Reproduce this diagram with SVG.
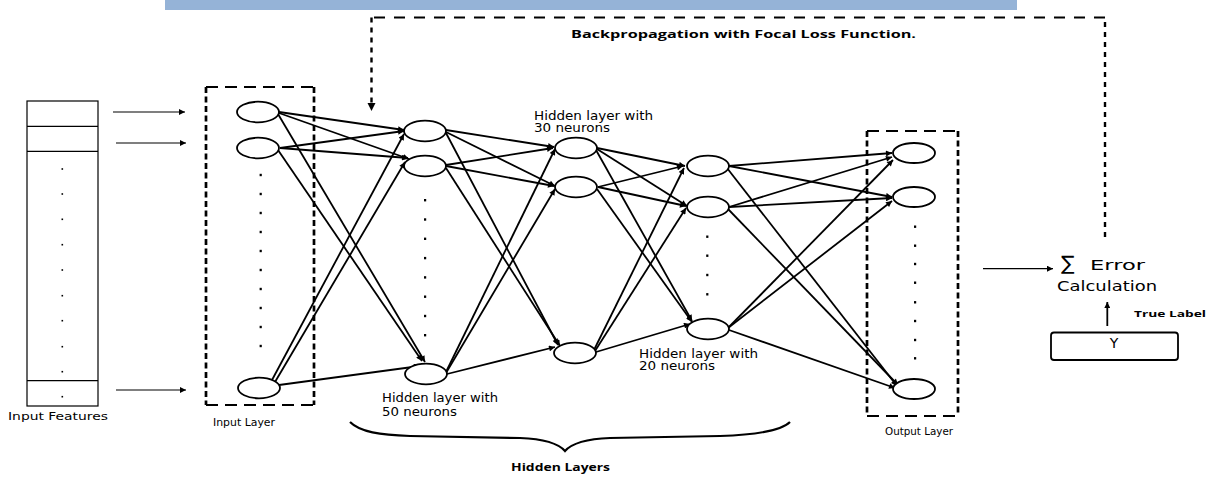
<svg xmlns="http://www.w3.org/2000/svg" width="1207" height="478" viewBox="0 0 1207 478">
<style>
.n{fill:#fff;stroke:#000;stroke-width:1.8}
.e{stroke:#000;stroke-width:1.8;fill:none;marker-end:url(#ah)}
.t{stroke:#000;stroke-width:1.2;fill:none;marker-end:url(#ah)}
.dv{stroke:#000;stroke-width:2.7;fill:none;stroke-dasharray:6 3.5}
.dh{stroke:#000;stroke-width:2;fill:none;stroke-dasharray:12 7}
.fv{stroke:#000;stroke-width:2.4;fill:none;stroke-dasharray:5 5}
.fh{stroke:#000;stroke-width:1.9;fill:none;stroke-dasharray:11 9}
.lbl{font-family:"DejaVu Sans",Verdana,sans-serif;font-size:12px;fill:#000}
.sm{font-family:"DejaVu Sans",Verdana,sans-serif;font-size:11px;fill:#000}
.b{font-family:"Open Sans","DejaVu Sans",sans-serif;font-weight:bold;fill:#000}
.dot{fill:#000}
</style>
<defs>
<marker id="ah" viewBox="0 0 10 10" refX="10" refY="5" markerWidth="8" markerHeight="6" markerUnits="userSpaceOnUse" orient="auto"><path d="M0,0 L10,5 L0,10 z" fill="#000"/></marker>
</defs>
<rect x="165" y="0" width="852" height="10" fill="#95B3D7"/>

<g id="connectors">
<path class="fv" d="M1105,237 V17.5"/>
<path class="fh" d="M1105,17.5 H371.5"/>
<path class="fv" d="M371.5,17.5 V104"/>
<path d="M367.5,103 L375.5,103 L371.5,111 z" fill="#000"/>
<path class="t" d="M113,112 H185"/>
<path class="t" d="M116,143 H186"/>
<path class="t" d="M116,390 H186"/>
<path class="e" d="M279,112 L404,130"/>
<path class="e" d="M279,113 L409,159"/>
<path class="e" d="M278,114 L425,362"/>
<path class="e" d="M280,148 L404,131"/>
<path class="e" d="M280,148 L408,158"/>
<path class="e" d="M278,150 L422,361"/>
<path class="e" d="M272,380 L404,134"/>
<path class="e" d="M275,382 L405,162"/>
<path class="e" d="M279,385 L420,366"/>
<path class="e" d="M446,130 L554,147"/>
<path class="e" d="M446,132 L555,186"/>
<path class="e" d="M446,133 L558,345"/>
<path class="e" d="M446,165 L553,148"/>
<path class="e" d="M446,166 L554,186"/>
<path class="e" d="M446,168 L560,346"/>
<path class="e" d="M446,372 L555,149"/>
<path class="e" d="M446,373 L555,189"/>
<path class="e" d="M447,374 L555,347"/>
<path class="e" d="M597,148 L685,166"/>
<path class="e" d="M597,149 L687,206"/>
<path class="e" d="M596,150 L692,321"/>
<path class="e" d="M598,187 L683,166"/>
<path class="e" d="M598,187 L686,206"/>
<path class="e" d="M597,189 L692,322"/>
<path class="e" d="M594,350 L684,168"/>
<path class="e" d="M595,351 L686,208"/>
<path class="e" d="M596,352 L690,324"/>
<path class="e" d="M729,166 L892,153"/>
<path class="e" d="M729,166 L892,197"/>
<path class="e" d="M727,168 L897,386"/>
<path class="e" d="M729,207 L892,157"/>
<path class="e" d="M729,207 L892,198"/>
<path class="e" d="M728,209 L898,385"/>
<path class="e" d="M728,328 L893,160"/>
<path class="e" d="M728,328 L892,201"/>
<path class="e" d="M729,330 L895,388"/>
<path class="t" d="M983,268.7 H1053"/>
<path class="t" style="stroke-width:1.8" d="M1107.3,326 V302"/>
<path d="M350,422 C360,432 380,435 410,436 L520,438 C545,439 558,443 565,451 C572,443 585,439 610,438 L720,436 C750,435 780,432 790,422" fill="none" stroke="#000" stroke-width="2.2"/>
</g>

<g id="input-features">
<rect x="27" y="101" width="71" height="305" fill="#fff" stroke="#000" stroke-width="1.2"/>
<path d="M27,126.3 H98 M27,151.3 H98 M27,380.7 H98" stroke="#000" stroke-width="1.2"/>
<g class="dot">
<rect x="61.5" y="168.2" width="1.6" height="1.6"/><rect x="61.5" y="193.2" width="1.6" height="1.6"/><rect x="61.5" y="218.5" width="1.6" height="1.6"/><rect x="61.5" y="243.9" width="1.6" height="1.6"/><rect x="61.5" y="269.2" width="1.6" height="1.6"/><rect x="61.5" y="294.9" width="1.6" height="1.6"/><rect x="61.5" y="319.9" width="1.6" height="1.6"/><rect x="61.5" y="345.9" width="1.6" height="1.6"/><rect x="61.5" y="370.9" width="1.6" height="1.6"/><rect x="61.5" y="395.9" width="1.6" height="1.6"/>
</g>
<text class="sm" x="8" y="420" textLength="100" lengthAdjust="spacingAndGlyphs">Input Features</text>
</g>

<g id="input-layer">
<path class="dv" d="M206,87 V405 M314,87 V405"/>
<path class="dh" d="M206,87 H314 M206,405 H314"/>
<ellipse class="n" cx="258" cy="112" rx="21" ry="10.3"/>
<ellipse class="n" cx="258" cy="148" rx="21" ry="10.3"/>
<ellipse class="n" cx="259" cy="388" rx="21" ry="10.3"/>
<g class="dot">
<rect x="259.6" y="173.8" width="2.2" height="2.4"/><rect x="259.6" y="192.8" width="2.2" height="2.4"/><rect x="259.6" y="211.8" width="2.2" height="2.4"/><rect x="259.6" y="230.8" width="2.2" height="2.4"/><rect x="259.6" y="249.8" width="2.2" height="2.4"/><rect x="259.6" y="268.8" width="2.2" height="2.4"/><rect x="259.6" y="287.8" width="2.2" height="2.4"/><rect x="259.6" y="306.8" width="2.2" height="2.4"/><rect x="259.6" y="325.8" width="2.2" height="2.4"/><rect x="259.6" y="344.8" width="2.2" height="2.4"/>
</g>
<text class="sm" x="213" y="426" textLength="62" lengthAdjust="spacingAndGlyphs">Input Layer</text>
</g>

<g id="hidden-1">
<ellipse class="n" cx="425" cy="131" rx="21" ry="10.3"/>
<ellipse class="n" cx="425" cy="166" rx="21" ry="10.3"/>
<ellipse class="n" cx="426" cy="374" rx="21" ry="10.3"/>
<g class="dot">
<rect x="424" y="199" width="2.2" height="2.4"/><rect x="424" y="218.3" width="2.2" height="2.4"/><rect x="424" y="237.6" width="2.2" height="2.4"/><rect x="424" y="256.9" width="2.2" height="2.4"/><rect x="424" y="276.2" width="2.2" height="2.4"/><rect x="424" y="295.5" width="2.2" height="2.4"/><rect x="424" y="314.8" width="2.2" height="2.4"/><rect x="424" y="334" width="2.2" height="2.4"/>
</g>
<text class="lbl" x="382" y="402" textLength="116" lengthAdjust="spacingAndGlyphs">Hidden layer with</text>
<text class="lbl" x="382" y="416" textLength="75" lengthAdjust="spacingAndGlyphs">50 neurons</text>
</g>

<g id="hidden-2">
<ellipse class="n" cx="576" cy="148" rx="21" ry="10.3"/>
<ellipse class="n" cx="576" cy="187" rx="21" ry="10.3"/>
<ellipse class="n" cx="575" cy="353" rx="21" ry="10.3"/>
<text class="lbl" x="534" y="120" textLength="119" lengthAdjust="spacingAndGlyphs">Hidden layer with</text>
<text class="lbl" x="534" y="132" textLength="76" lengthAdjust="spacingAndGlyphs">30 neurons</text>
</g>

<g id="hidden-3">
<ellipse class="n" cx="708" cy="166" rx="21" ry="10.3"/>
<ellipse class="n" cx="708" cy="207" rx="21" ry="10.3"/>
<ellipse class="n" cx="708" cy="329" rx="21" ry="10.3"/>
<g class="dot">
<rect x="706.2" y="235.5" width="2.2" height="2.4"/><rect x="706.2" y="254.5" width="2.2" height="2.4"/><rect x="706.2" y="273.8" width="2.2" height="2.4"/><rect x="706.2" y="293.1" width="2.2" height="2.4"/>
</g>
<text class="lbl" x="639" y="358" textLength="119" lengthAdjust="spacingAndGlyphs">Hidden layer with</text>
<text class="lbl" x="639" y="370" textLength="76" lengthAdjust="spacingAndGlyphs">20 neurons</text>
</g>

<g id="output-layer">
<path class="dv" d="M867,131 V416 M958,131 V416"/>
<path class="dh" d="M867,131 H958 M867,416 H958"/>
<ellipse class="n" cx="914" cy="153" rx="21" ry="10"/>
<ellipse class="n" cx="914" cy="197" rx="21" ry="10"/>
<ellipse class="n" cx="914" cy="389" rx="21" ry="10"/>
<g class="dot">
<rect x="914" y="225.5" width="2.2" height="2.4"/><rect x="914" y="244.5" width="2.2" height="2.4"/><rect x="914" y="262.8" width="2.2" height="2.4"/><rect x="914" y="281.5" width="2.2" height="2.4"/><rect x="914" y="301.1" width="2.2" height="2.4"/><rect x="914" y="319.8" width="2.2" height="2.4"/><rect x="914" y="338.8" width="2.2" height="2.4"/><rect x="914" y="357.1" width="2.2" height="2.4"/>
</g>
<text class="sm" x="885" y="435" textLength="68" lengthAdjust="spacingAndGlyphs">Output Layer</text>
</g>

<g id="error-calc">
<text class="lbl" x="1061" y="270" style="font-size:20px">∑</text>
<text class="lbl" x="1090" y="270" style="font-size:14px" textLength="55" lengthAdjust="spacingAndGlyphs">Error</text>
<text class="lbl" x="1057" y="291" style="font-size:14px" textLength="100" lengthAdjust="spacingAndGlyphs">Calculation</text>
</g>

<g id="true-label">
<rect x="1051" y="332.5" width="127" height="27.5" rx="3" fill="#fff" stroke="#000" stroke-width="1.8"/>
<text class="lbl" x="1114" y="348" text-anchor="middle" style="font-size:14px">Y</text>
<text class="b" x="1134" y="317" style="font-size:9.5px" textLength="72" lengthAdjust="spacingAndGlyphs">True Label</text>
</g>

<g id="backprop-label">
<text class="b" x="571" y="38" style="font-size:10.5px" textLength="345" lengthAdjust="spacingAndGlyphs">Backpropagation with Focal Loss Function.</text>
</g>

<g id="hidden-layers-label">
<text class="b" x="511" y="471" style="font-size:10px" textLength="99" lengthAdjust="spacingAndGlyphs">Hidden Layers</text>
</g>
</svg>
